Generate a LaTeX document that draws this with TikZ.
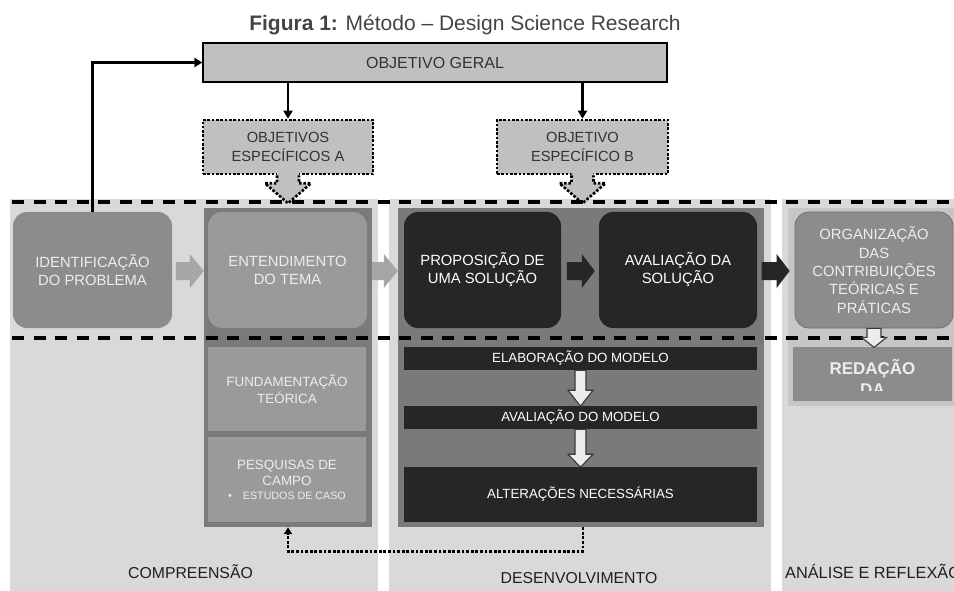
\documentclass[tikz,border=0pt]{standalone}
\usepackage{fontspec}
\setmainfont{Liberation Sans}
\usetikzlibrary{arrows.meta,calc}
\definecolor{bgcol}{HTML}{D9D9D9}
\definecolor{ogfill}{HTML}{C0C0C0}
\definecolor{midgray}{HTML}{8C8C8C}
\definecolor{framegray}{HTML}{7A7A7A}
\definecolor{lightbox}{HTML}{9A9A9A}
\definecolor{darkbox}{HTML}{262626}
\definecolor{arrgray}{HTML}{A6A6A6}
\definecolor{anframe}{HTML}{C6C6C6}
\definecolor{txtlight}{HTML}{EDEDED}
\definecolor{txtdark}{HTML}{333333}
\definecolor{titlecol}{HTML}{444444}
\definecolor{warrfill}{HTML}{ECECEC}
\definecolor{orgborder}{HTML}{707070}
\begin{document}
\begin{tikzpicture}[x=1pt,y=-1pt,
  ogbox/.style={draw=black, line width=1.3pt, fill=ogfill, inner sep=0pt,
    font=\fontsize{16}{19}\selectfont, text=txtdark},
  dotbox/.style={fill=ogfill, draw=black, line width=2.6pt, dash pattern=on 2.6pt off 1.7pt,
    inner sep=0pt, align=center, font=\fontsize{14.7}{19}\selectfont, text=txtdark},
  dotline/.style={draw=black, line width=2.6pt, dash pattern=on 2.6pt off 1.7pt},
  framebox/.style={fill=framegray, inner sep=0pt},
  anbox/.style={fill=anframe, inner sep=0pt},
  bigbox/.style={inner sep=0pt, align=center, rounded corners=14pt,
    font=\fontsize{14.8}{18}\selectfont, text=txtlight},
  lightrect/.style={fill=lightbox, inner sep=0pt, align=center,
    font=\fontsize{13.4}{16.5}\selectfont, text=txtlight},
  darkbar/.style={fill=darkbox, inner sep=0pt, align=center,
    font=\fontsize{13.3}{16}\selectfont, text=white},
  arr/.style={draw=black, line width=2.3pt, -{Triangle[length=8pt,width=9pt]}},
  fbarrow/.style={draw=black, line width=2.8pt, dash pattern=on 2.8pt off 1.8pt,
    -{Triangle[length=7pt,width=8pt]}},
  dashline/.style={draw=black, line width=3.4pt, dash pattern=on 12pt off 9.5pt},
  warrow/.style={fill=warrfill, draw=black!78, line width=1.1pt},
  collabel/.style={inner sep=0pt, font=\fontsize{15.8}{19}\selectfont, text=black!88}
]
\useasboundingbox (0,0) rectangle (954,591);

% title
\node[anchor=base, inner sep=0pt, text=titlecol, font=\fontsize{21}{25}\selectfont]
  (title) at (465,31) {\textbf{Figura 1:} Método – Design Science Research};

% column backgrounds
\fill[bgcol] (10,199) rectangle (378,591);
\fill[bgcol] (389,199) rectangle (771,591);
\fill[bgcol] (782,199) rectangle (954,591);

% top boxes
\node[ogbox, minimum width=464pt, minimum height=39pt] (og) at (435,62.5) {OBJETIVO GERAL};
\node[dotbox, minimum width=170pt, minimum height=54pt] (oa) at (288,147) {OBJETIVOS\\ESPECÍFICOS A};
\node[dotbox, minimum width=171pt, minimum height=54pt] (ob) at (582.5,147) {OBJETIVO\\ESPECÍFICO B};

% dotted block arrows under specific objectives
\foreach \n in {oa,ob}{
  \fill[ogfill] ($(\n.south)+(-11,-3)$) -- ++(0,11) -- ++(-12,0) -- ++(23,20) -- ++(23,-20) -- ++(-12,0) -- ++(0,-11) -- cycle;
  \draw[dotline] ($(\n.south)+(-11,0)$) -- ++(0,8) -- ++(-12,0) -- ++(23,20) -- ++(23,-20) -- ++(-12,0) -- ++(0,-8);
}

% frames
\node[framebox, minimum width=168pt, minimum height=319pt] (entfr) at (288,367.5) {};
\node[framebox, minimum width=366pt, minimum height=319pt] (devfr) at (581,367.5) {};
\node[anbox, minimum width=166pt, minimum height=198pt] (anfr) at (871,307) {};

% compreensão
\node[bigbox, fill=midgray, minimum width=159pt, minimum height=116pt] (ident) at (92.5,270) {IDENTIFICAÇÃO\\DO PROBLEMA};
\node[bigbox, fill=lightbox, minimum width=159pt, minimum height=116pt] (ent) at (287.5,270) {ENTENDIMENTO\\DO TEMA};
\node[lightrect, minimum width=158pt, minimum height=84pt] (fund) at (287,389) {FUNDAMENTAÇÃO\\TEÓRICA};
\node[lightrect, minimum width=158pt, minimum height=85pt] (pesq) at (287,479.5)
  {PESQUISAS DE\\CAMPO\\[-3pt]{\fontsize{10.7}{13}\selectfont •\hspace{11pt}ESTUDOS DE CASO}};

% desenvolvimento
\node[bigbox, fill=darkbox, text=white, minimum width=157pt, minimum height=116pt] (prop) at (482.5,270) {PROPOSIÇÃO DE\\UMA SOLUÇÃO};
\node[bigbox, fill=darkbox, text=white, minimum width=158pt, minimum height=116pt] (aval) at (678,270) {AVALIAÇÃO DA\\SOLUÇÃO};
\node[darkbar, minimum width=353pt, minimum height=23pt] (elab) at (580.5,358.5) {ELABORAÇÃO DO MODELO};
\node[darkbar, minimum width=353pt, minimum height=23pt] (avm) at (580.5,417.5) {AVALIAÇÃO DO MODELO};
\node[darkbar, minimum width=353pt, minimum height=55pt] (alt) at (580.5,494.5) {ALTERAÇÕES NECESSÁRIAS};

% análise
\node[bigbox, fill=midgray, draw=orgborder, line width=0.8pt, text=txtlight,
  minimum width=158pt, minimum height=116pt, font=\fontsize{14.8}{18.3}\selectfont] (org) at (874,270)
  {ORGANIZAÇÃO\\DAS\\CONTRIBUIÇÕES\\TEÓRICAS E\\PRÁTICAS};
\node[fill=midgray, inner sep=0pt, minimum width=159pt, minimum height=54pt] (red) at (872.5,374) {};
\begin{scope}
  \clip (793,347) rectangle (952,390);
  \node[anchor=base, inner sep=0pt, font=\bfseries\fontsize{17}{21}\selectfont, text=txtlight] (redt1) at (872.5,374.2) {REDAÇÃO};
  \node[anchor=base, inner sep=0pt, font=\bfseries\fontsize{17}{21}\selectfont, text=txtlight] (redt2) at (872.5,395.2) {DA};
\end{scope}

% horizontal block arrows
\fill[arrgray] ($(entfr.west |- ident.east)+(0,1)$) -- ++(-14,-17) -- ++(0,8) -- ++(-14,0) -- ++(0,18) -- ++(14,0) -- ++(0,8) -- cycle;
\fill[arrgray] ($(devfr.west |- ent.east)+(0,1)$) -- ++(-14,-17) -- ++(0,8) -- ++(-12,0) -- ++(0,18) -- ++(12,0) -- ++(0,8) -- cycle;
\fill[darkbox] ($(aval.west)+(-4,1)$) -- ++(-13,-17) -- ++(0,8) -- ++(-15,0) -- ++(0,18) -- ++(15,0) -- ++(0,8) -- cycle;
\fill[darkbox] ($(org.west)+(-5,1)$) -- ++(-13,-17) -- ++(0,8) -- ++(-15,0) -- ++(0,18) -- ++(15,0) -- ++(0,8) -- cycle;

% white down arrows
\draw[warrow] ($(elab.south)+(-5.5,0)$) -- ++(0,20) -- ++(-7,0) -- ++(12.5,16) -- ++(12.5,-16) -- ++(-7,0) -- ++(0,-20) -- cycle;
\draw[warrow] ($(avm.south)+(-5.5,0)$) -- ++(0,25) -- ++(-7,0) -- ++(12.5,13) -- ++(12.5,-13) -- ++(-7,0) -- ++(0,-25) -- cycle;

% dashed separators
\draw[dashline] (12,202) -- (954,202);
\draw[dashline] (12,338) -- (954,338);

\draw[warrow] ($(org.south)+(-7,0)$) -- ++(0,9) -- ++(-5.5,0) -- ++(12.5,10) -- ++(12.5,-10) -- ++(-5.5,0) -- ++(0,-9) -- cycle;

% solid connectors
\draw[arr] (ident.north) |- (og.west);
\draw[arr] (og.south -| oa.north) -- (oa.north);
\draw[arr] (og.south -| ob.north) -- (ob.north);

% feedback dotted connector
\draw[fbarrow] ($(devfr.south)+(2,0)$) -- ++(0,24) -| (entfr.south);

% column labels
\node[collabel, anchor=base] (lc) at (190.5,578) {COMPREENSÃO};
\node[collabel, anchor=base] (ld) at (579,583) {DESENVOLVIMENTO};
\begin{scope}
  \clip (0,0) rectangle (954,591);
  \node[collabel, anchor=base west, font=\fontsize{16.3}{19}\selectfont] (la) at (785,578) {ANÁLISE E REFLEXÃO};
\end{scope}
\end{tikzpicture}
\end{document}
